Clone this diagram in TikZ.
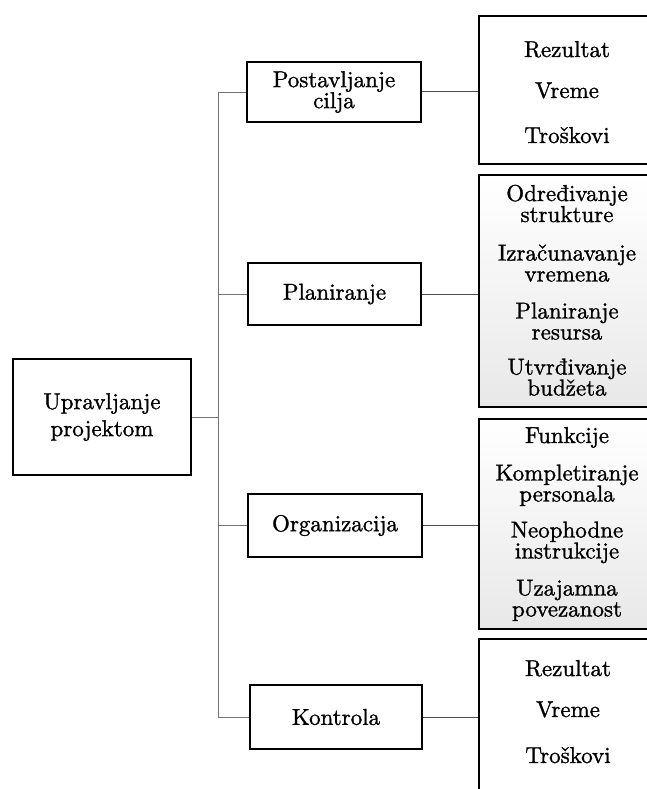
\documentclass[tikz,border=0pt]{standalone}
\usepackage{fontspec}
\newfontfamily\reffont{lmroman10-regular.otf}[FakeBold=1.2]
\newcommand\reftext[1]{\reffont\fontsize{23}{#1}\selectfont\lineskiplimit=-50pt\relax}
\begin{document}
\begin{tikzpicture}[x=1pt,y=-1pt,
  box/.style={draw=black, line width=1.8pt, inner sep=0pt, align=center},
  rbox/.style={draw=black, line width=1.8pt, inner sep=0pt, minimum width=173pt},
  shadebox/.style={top color=white, bottom color=black!9},
  tree/.style={draw=black!55, line width=0.8pt},
  link/.style={draw=black!70, line width=1pt},
  big/.style={font=\reftext{21}},
  item/.style={big, align=center, anchor=base, inner sep=0pt}
]
\useasboundingbox (0,0) rectangle (647,789);
\clip (0,0) rectangle (647,789);

% left and middle boxes
\node[box, font=\reftext{27}, minimum width=178pt, minimum height=116pt] (up) at (102,417) {Upravljanje\\projektom};
\node[box, font=\reftext{21}, minimum width=174pt, minimum height=60pt] (pc) at (334,92) {Postavljanje\\cilja};
\node[box, big, minimum width=173pt, minimum height=62pt] (pl) at (334.5,294) {Planiranje};
\node[box, big, minimum width=174pt, minimum height=63pt] (org) at (335,525.5) {Organizacija};
\node[box, big, minimum width=172pt, minimum height=64pt] (kon) at (336,717) {Kontrola};

% right boxes (cut off by the picture's right edge)
\node[rbox, minimum height=148pt] (r1) at (565.5,90) {};
\node[rbox, shadebox, minimum height=232pt] (r2) at (565.5,291) {};
\node[rbox, shadebox, minimum height=210pt] (r3) at (565.5,524) {};
\node[rbox, minimum height=170pt] (r4) at (565.5,724) {};

% items (anchor = baseline of the last line)
\node[item] (a1) at (567,57) {Rezultat};
\node[item] (a2) at (567,98) {Vreme};
\node[item] (a3) at (567,143) {Troškovi};

\node[item] (b1) at (567,222) {Određivanje\\strukture};
\node[item] (b2) at (567,281.5) {Izračunavanje\\vremena};
\node[item] (b3) at (567,339.5) {Planiranje\\resursa};
\node[item] (b4) at (567,395.5) {Utvrđivanje\\budžeta};

\node[item] (c1) at (567,443) {Funkcije};
\node[item] (c2) at (567,501.5) {Kompletiranje\\personala};
\node[item] (c3) at (567,558.5) {Neophodne\\instrukcije};
\node[item] (c4) at (567,616.5) {Uzajamna\\povezanost};

\node[item] (d1) at (568,676) {Rezultat};
\node[item] (d2) at (568,717) {Vreme};
\node[item] (d3) at (568,763) {Troškovi};

% tree
\coordinate (t) at (218,0);
\draw[tree] (up.east) -- (up.east -| t);
\draw[tree] (pc.west -| t) -- (kon.west -| t);
\draw[tree] (pc.west -| t) -- (pc.west);
\draw[tree] (pl.west -| t) -- (pl.west);
\draw[tree] (org.west -| t) -- (org.west);
\draw[tree] (kon.west -| t) -- (kon.west);

% links middle -> right
\draw[link] (pc.east) -- (pc.east -| r1.west);
\draw[link] (pl.east) -- (pl.east -| r2.west);
\draw[link] (org.east) -- (org.east -| r3.west);
\draw[link] (kon.east) -- (kon.east -| r4.west);
\end{tikzpicture}
\end{document}
